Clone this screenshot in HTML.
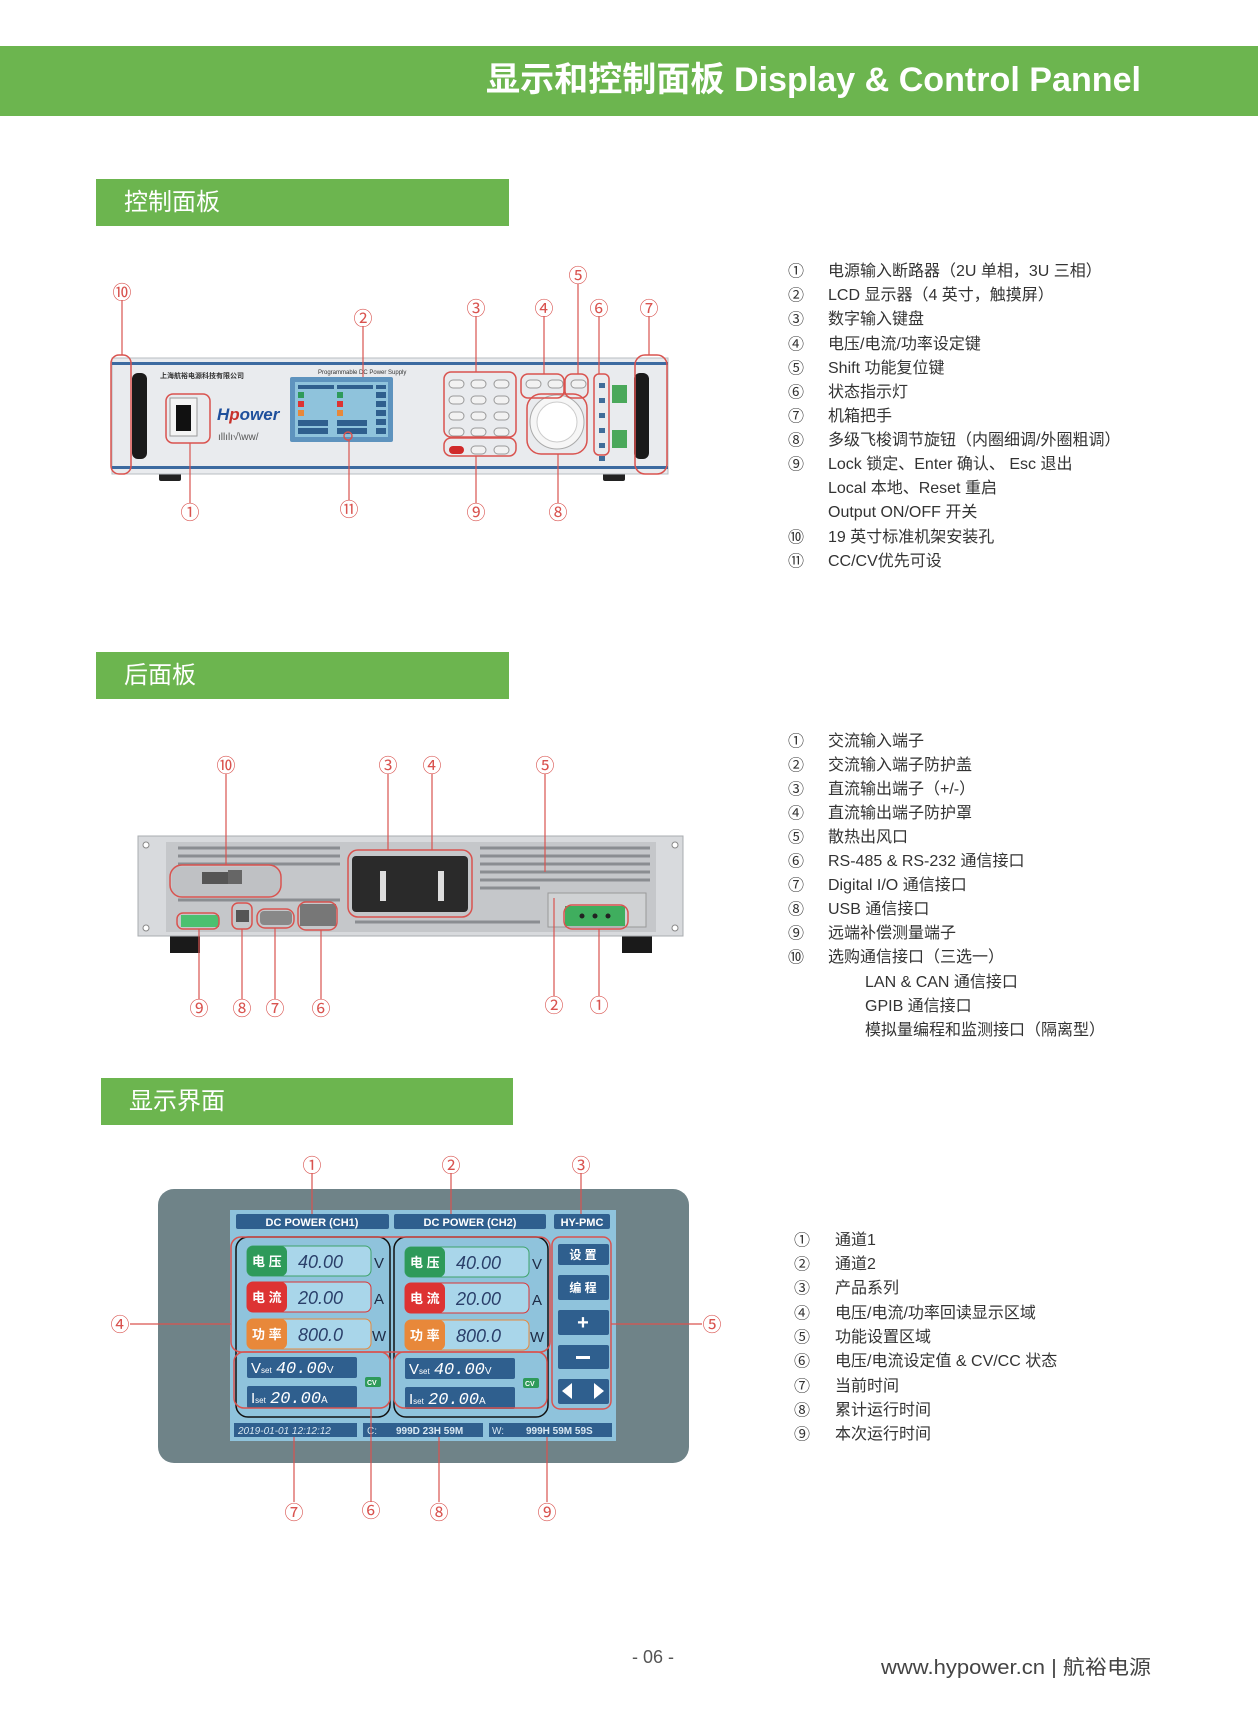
<!DOCTYPE html>
<html><head><meta charset="utf-8">
<style>
html,body{margin:0;padding:0;background:#fff;}
svg{display:block;}
text{font-family:"Liberation Sans","Noto Sans CJK SC",sans-serif;}
.cn{font-family:"Liberation Sans","Noto Sans CJK SC",sans-serif;font-size:16px;fill:#333;}
.num{font-family:"Noto Sans CJK SC","Liberation Sans",sans-serif;font-size:19px;fill:#d9534f;}
.ln{stroke:#d9534f;stroke-width:1.2;fill:none;}
.rb{stroke:#d9534f;stroke-width:1.5;fill:none;}
.lnum{font-family:"Noto Sans CJK SC",sans-serif;font-size:16px;fill:#333;}
</style></head><body>
<svg width="1258" height="1719" viewBox="0 0 1258 1719" xmlns="http://www.w3.org/2000/svg">
<!-- header -->
<rect x="0" y="46" width="1258" height="70" fill="#6cb54f"/>
<text x="486" y="91" font-size="34" font-weight="bold" fill="#fff" textLength="655" lengthAdjust="spacingAndGlyphs" style="font-family:'Liberation Sans','Noto Sans CJK SC',sans-serif">显示和控制面板  Display &amp; Control Pannel</text>

<!-- section bars -->
<rect x="96" y="179" width="413" height="47" fill="#6cb54f"/>
<text x="124" y="210" font-size="24" fill="#fff">控制面板</text>
<rect x="96" y="652" width="413" height="47" fill="#6cb54f"/>
<text x="124" y="683" font-size="24" fill="#fff">后面板</text>
<rect x="101" y="1078" width="412" height="47" fill="#6cb54f"/>
<text x="129" y="1109" font-size="24" fill="#fff">显示界面</text>

<!-- list 1 -->
<g dominant-baseline="middle">
<text class="lnum" x="788" y="272">①</text><text class="cn" x="828" y="272">电源输入断路器（2U 单相，3U 三相）</text>
<text class="lnum" x="788" y="296">②</text><text class="cn" x="828" y="296">LCD 显示器（4 英寸，触摸屏）</text>
<text class="lnum" x="788" y="320">③</text><text class="cn" x="828" y="320">数字输入键盘</text>
<text class="lnum" x="788" y="345">④</text><text class="cn" x="828" y="345">电压/电流/功率设定键</text>
<text class="lnum" x="788" y="369">⑤</text><text class="cn" x="828" y="369">Shift 功能复位键</text>
<text class="lnum" x="788" y="393">⑥</text><text class="cn" x="828" y="393">状态指示灯</text>
<text class="lnum" x="788" y="417">⑦</text><text class="cn" x="828" y="417">机箱把手</text>
<text class="lnum" x="788" y="441">⑧</text><text class="cn" x="828" y="441">多级飞梭调节旋钮（内圈细调/外圈粗调）</text>
<text class="lnum" x="788" y="465">⑨</text><text class="cn" x="828" y="465">Lock 锁定、Enter 确认、 Esc 退出</text>
<text class="cn" x="828" y="489">Local 本地、Reset 重启</text>
<text class="cn" x="828" y="513">Output ON/OFF 开关</text>
<text class="lnum" x="788" y="538">⑩</text><text class="cn" x="828" y="538">19 英寸标准机架安装孔</text>
<text class="lnum" x="788" y="562">⑪</text><text class="cn" x="828" y="562">CC/CV优先可设</text>

<!-- list 2 -->
<text class="lnum" x="788" y="742">①</text><text class="cn" x="828" y="742">交流输入端子</text>
<text class="lnum" x="788" y="766">②</text><text class="cn" x="828" y="766">交流输入端子防护盖</text>
<text class="lnum" x="788" y="790">③</text><text class="cn" x="828" y="790">直流输出端子（+/-）</text>
<text class="lnum" x="788" y="814">④</text><text class="cn" x="828" y="814">直流输出端子防护罩</text>
<text class="lnum" x="788" y="838">⑤</text><text class="cn" x="828" y="838">散热出风口</text>
<text class="lnum" x="788" y="862">⑥</text><text class="cn" x="828" y="862">RS-485 &amp; RS-232 通信接口</text>
<text class="lnum" x="788" y="886">⑦</text><text class="cn" x="828" y="886">Digital I/O 通信接口</text>
<text class="lnum" x="788" y="910">⑧</text><text class="cn" x="828" y="910">USB 通信接口</text>
<text class="lnum" x="788" y="934">⑨</text><text class="cn" x="828" y="934">远端补偿测量端子</text>
<text class="lnum" x="788" y="958">⑩</text><text class="cn" x="828" y="958">选购通信接口（三选一）</text>
<text class="cn" x="865" y="983">LAN &amp;  CAN 通信接口</text>
<text class="cn" x="865" y="1007">GPIB 通信接口</text>
<text class="cn" x="865" y="1031">模拟量编程和监测接口（隔离型）</text>

<!-- list 3 -->
<text class="lnum" x="794" y="1241">①</text><text class="cn" x="835" y="1241">通道1</text>
<text class="lnum" x="794" y="1265">②</text><text class="cn" x="835" y="1265">通道2</text>
<text class="lnum" x="794" y="1289">③</text><text class="cn" x="835" y="1289">产品系列</text>
<text class="lnum" x="794" y="1314">④</text><text class="cn" x="835" y="1314">电压/电流/功率回读显示区域</text>
<text class="lnum" x="794" y="1338">⑤</text><text class="cn" x="835" y="1338">功能设置区域</text>
<text class="lnum" x="794" y="1362">⑥</text><text class="cn" x="835" y="1362">电压/电流设定值 &amp; CV/CC 状态</text>
<text class="lnum" x="794" y="1387">⑦</text><text class="cn" x="835" y="1387">当前时间</text>
<text class="lnum" x="794" y="1411">⑧</text><text class="cn" x="835" y="1411">累计运行时间</text>
<text class="lnum" x="794" y="1435">⑨</text><text class="cn" x="835" y="1435">本次运行时间</text>
</g>

<!-- footer -->
<text x="653" y="1663" font-size="18" fill="#555" text-anchor="middle">- 06 -</text>
<text x="881" y="1674" font-size="20" fill="#444" textLength="270" lengthAdjust="spacingAndGlyphs">www.hypower.cn  |  航裕电源</text>

<!-- ========== FRONT PANEL ========== -->
<g>
<rect x="159" y="472" width="22" height="9" rx="2" fill="#222"/>
<rect x="603" y="472" width="22" height="9" rx="2" fill="#222"/>
<rect x="112" y="358" width="556" height="116" fill="#e9ebee" stroke="#b8bcc2"/>
<rect x="112" y="362" width="556" height="3" fill="#3c6aa0"/>
<rect x="112" y="466" width="556" height="3" fill="#3c6aa0"/>
<!-- handles -->
<rect x="132" y="373" width="15" height="86" rx="6" fill="#1a1a1a"/>
<rect x="634" y="373" width="15" height="86" rx="6" fill="#1a1a1a"/>
<text x="160" y="378" font-size="7" fill="#333" font-weight="bold">上海航裕电源科技有限公司</text>
<rect x="170" y="398" width="27" height="38" fill="#f4f4f4" stroke="#999"/>
<rect x="176" y="405" width="15" height="26" fill="#111"/>
<text x="217" y="420" font-size="17" font-weight="bold" font-style="italic" fill="#1e4f9c">H<tspan fill="#c8322b">p</tspan>ower</text>
<text x="218" y="440" font-size="10" fill="#555">ıllılı√\ww/</text>
<!-- LCD -->
<text x="318" y="374" font-size="6" fill="#333">Programmable DC Power Supply</text>
<rect x="290" y="377" width="103" height="65" rx="2" fill="#5e93be"/>
<rect x="295" y="382" width="93" height="55" fill="#8fc3dc"/>
<g fill="#2f5f8e"><rect x="298" y="385" width="36" height="4"/><rect x="337" y="385" width="36" height="4"/><rect x="376" y="385" width="10" height="4"/></g>
<g><rect x="298" y="392" width="6" height="6" fill="#2e9a5a"/><rect x="298" y="401" width="6" height="6" fill="#d33"/><rect x="298" y="410" width="6" height="6" fill="#e8883a"/>
<rect x="337" y="392" width="6" height="6" fill="#2e9a5a"/><rect x="337" y="401" width="6" height="6" fill="#d33"/><rect x="337" y="410" width="6" height="6" fill="#e8883a"/>
<rect x="298" y="420" width="30" height="6" fill="#2f5f8e"/><rect x="337" y="420" width="30" height="6" fill="#2f5f8e"/>
<rect x="298" y="428" width="30" height="6" fill="#2f5f8e"/><rect x="337" y="428" width="30" height="6" fill="#2f5f8e"/>
<g fill="#2f5f8e"><rect x="376" y="392" width="10" height="6"/><rect x="376" y="401" width="10" height="6"/><rect x="376" y="410" width="10" height="6"/><rect x="376" y="419" width="10" height="6"/><rect x="376" y="428" width="10" height="6"/></g></g>
<!-- keypad -->
<g fill="#f2f2f2" stroke="#999">
<rect x="449" y="380" width="15" height="8" rx="4"/><rect x="471" y="380" width="15" height="8" rx="4"/><rect x="494" y="380" width="15" height="8" rx="4"/>
<rect x="449" y="396" width="15" height="8" rx="4"/><rect x="471" y="396" width="15" height="8" rx="4"/><rect x="494" y="396" width="15" height="8" rx="4"/>
<rect x="449" y="412" width="15" height="8" rx="4"/><rect x="471" y="412" width="15" height="8" rx="4"/><rect x="494" y="412" width="15" height="8" rx="4"/>
<rect x="449" y="428" width="15" height="8" rx="4"/><rect x="471" y="428" width="15" height="8" rx="4"/><rect x="494" y="428" width="15" height="8" rx="4"/>
<rect x="471" y="446" width="15" height="8" rx="4"/><rect x="494" y="446" width="15" height="8" rx="4"/>
<rect x="526" y="380" width="15" height="8" rx="4"/><rect x="548" y="380" width="15" height="8" rx="4"/><rect x="571" y="380" width="15" height="8" rx="4"/>
</g>
<rect x="449" y="446" width="15" height="8" rx="4" fill="#d02a2a"/>
<circle cx="557" cy="422" r="27" fill="#f6f6f6" stroke="#aaa"/>
<circle cx="557" cy="422" r="20" fill="#fff" stroke="#ccc"/>
<g fill="#3f6d9a"><rect x="599" y="383" width="6" height="5"/><rect x="599" y="398" width="6" height="5"/><rect x="599" y="413" width="6" height="5"/><rect x="599" y="428" width="6" height="5"/><rect x="599" y="443" width="6" height="5"/><rect x="599" y="456" width="6" height="5"/></g>
<rect x="612" y="385" width="15" height="18" fill="#4aa85a"/><rect x="612" y="430" width="15" height="18" fill="#4aa85a"/>
<!-- red outlines -->
<rect class="rb" x="111" y="355" width="20" height="119" rx="8"/>
<rect class="rb" x="635" y="355" width="32" height="119" rx="10"/>
<rect class="rb" x="166" y="394" width="44" height="49" rx="7"/>
<rect class="rb" x="444" y="372" width="72" height="65" rx="7"/>
<rect class="rb" x="444" y="438" width="72" height="18" rx="7"/>
<rect class="rb" x="521" y="374" width="43" height="24" rx="7"/>
<rect class="rb" x="565" y="374" width="23" height="24" rx="7"/>
<rect class="rb" x="594" y="374" width="15" height="81" rx="5"/>
<rect class="rb" x="527" y="394" width="60" height="60" rx="14"/>
<circle class="rb" cx="348" cy="436" r="4"/>
<!-- callouts -->
<path class="ln" d="M122 300V355 M363 326V377 M476 316V372 M544 316V374 M578 284V374 M599 316V374 M649 316V355 M190 443V503 M349 440V500 M476 456V503 M558 454V503"/>
<text class="num" x="122" y="299" text-anchor="middle">⑩</text>
<text class="num" x="363" y="325" text-anchor="middle">②</text>
<text class="num" x="476" y="315" text-anchor="middle">③</text>
<text class="num" x="544" y="315" text-anchor="middle">④</text>
<text class="num" x="578" y="282" text-anchor="middle">⑤</text>
<text class="num" x="599" y="315" text-anchor="middle">⑥</text>
<text class="num" x="649" y="315" text-anchor="middle">⑦</text>
<text class="num" x="190" y="519" text-anchor="middle">①</text>
<text class="num" x="349" y="516" text-anchor="middle">⑪</text>
<text class="num" x="476" y="519" text-anchor="middle">⑨</text>
<text class="num" x="558" y="519" text-anchor="middle">⑧</text>
</g>

<!-- ========== REAR PANEL ========== -->
<g>
<rect x="170" y="934" width="30" height="19" fill="#1a1a1a"/>
<rect x="622" y="934" width="30" height="19" fill="#1a1a1a"/>
<rect x="138" y="836" width="545" height="100" fill="#d8dadd" stroke="#a9acb0"/>
<rect x="166" y="842" width="490" height="90" fill="#c5c7ca"/>
<g stroke="#8a8d91" stroke-width="3">
<path d="M178 848H340 M178 856H340 M178 864H340 M178 900H340 M480 848H650 M480 856H650 M480 864H650 M480 872H650 M480 880H650 M480 888H540 M355 922H540"/>
</g>
<circle cx="146" cy="845" r="3" fill="#fff" stroke="#888"/><circle cx="146" cy="928" r="3" fill="#fff" stroke="#888"/>
<circle cx="675" cy="845" r="3" fill="#fff" stroke="#888"/><circle cx="675" cy="928" r="3" fill="#fff" stroke="#888"/>
<rect x="172" y="867" width="108" height="29" rx="6" fill="#bfc1c4"/>
<rect x="202" y="872" width="26" height="12" fill="#555"/><rect x="228" y="870" width="14" height="14" fill="#666"/>
<rect x="352" y="856" width="116" height="56" rx="4" fill="#2a2a2a"/>
<rect x="380" y="871" width="6" height="30" fill="#ddd"/><rect x="438" y="871" width="6" height="30" fill="#ddd"/>
<rect x="548" y="893" width="98" height="34" fill="#d0d2d4" stroke="#999"/>
<rect x="565" y="906" width="60" height="20" fill="#3fae5e"/>
<circle cx="582" cy="916" r="2.5" fill="#222"/><circle cx="595" cy="916" r="2.5" fill="#222"/><circle cx="608" cy="916" r="2.5" fill="#222"/>
<rect x="181" y="915" width="38" height="12" fill="#4cc070"/>
<rect x="236" y="910" width="13" height="12" fill="#555"/>
<rect x="260" y="911" width="32" height="14" rx="4" fill="#888"/>
<rect x="300" y="904" width="36" height="22" fill="#777"/>
<rect class="rb" x="170" y="865" width="111" height="32" rx="12"/>
<rect class="rb" x="348" y="850" width="124" height="67" rx="10"/>
<rect class="rb" x="564" y="905" width="64" height="24" rx="8"/>
<rect class="rb" x="177" y="913" width="42" height="16" rx="6"/>
<rect class="rb" x="232" y="903" width="20" height="26" rx="6"/>
<rect class="rb" x="257" y="909" width="37" height="19" rx="8"/>
<rect class="rb" x="298" y="902" width="39" height="28" rx="8"/>
<path class="ln" d="M226 774V865 M388 774V850 M432 774V850 M545 774V872 M199 929V999 M242 929V999 M275 928V999 M321 930V999 M554 898V996 M599 929V996"/>
<text class="num" x="226" y="772" text-anchor="middle">⑩</text>
<text class="num" x="388" y="772" text-anchor="middle">③</text>
<text class="num" x="432" y="772" text-anchor="middle">④</text>
<text class="num" x="545" y="772" text-anchor="middle">⑤</text>
<text class="num" x="199" y="1015" text-anchor="middle">⑨</text>
<text class="num" x="242" y="1015" text-anchor="middle">⑧</text>
<text class="num" x="275" y="1015" text-anchor="middle">⑦</text>
<text class="num" x="321" y="1015" text-anchor="middle">⑥</text>
<text class="num" x="554" y="1012" text-anchor="middle">②</text>
<text class="num" x="599" y="1012" text-anchor="middle">①</text>
</g>

<!-- ========== DISPLAY ========== -->
<g>
<rect x="158" y="1189" width="531" height="274" rx="16" fill="#6f8388"/>
<rect x="230" y="1210" width="386" height="231" fill="#8fc3dc"/>
<g fill="#2f5f8e">
<rect x="236" y="1214" width="153" height="15" rx="2"/>
<rect x="394" y="1214" width="152" height="15" rx="2"/>
<rect x="554" y="1214" width="56" height="15" rx="2"/>
</g>
<g font-size="11" font-weight="bold" fill="#fff" text-anchor="middle">
<text x="312" y="1226">DC POWER (CH1)</text>
<text x="470" y="1226">DC POWER (CH2)</text>
<text x="582" y="1226">HY-PMC</text>
</g>
<!-- channel rows -->
<g id="ch1">
<rect x="247" y="1246" width="124" height="30" rx="6" fill="#a9d6ea" stroke="#3fa36a"/>
<rect x="247" y="1246" width="40" height="30" rx="6" fill="#2e9a5a"/>
<rect x="247" y="1282" width="124" height="30" rx="6" fill="#a9d6ea" stroke="#d33"/>
<rect x="247" y="1282" width="40" height="30" rx="6" fill="#d33"/>
<rect x="247" y="1319" width="124" height="30" rx="6" fill="#a9d6ea" stroke="#e8883a"/>
<rect x="247" y="1319" width="40" height="30" rx="6" fill="#e8883a"/>
<g font-size="13" font-weight="bold" fill="#fff" style="font-family:'Noto Sans CJK SC',sans-serif">
<text x="252" y="1266">电 压</text><text x="252" y="1302">电 流</text><text x="252" y="1339">功 率</text></g>
<g font-size="18" font-style="italic" fill="#2a3f6a" style="font-family:'Liberation Mono',monospace">
<text x="298" y="1268">40.00</text><text x="298" y="1304">20.00</text><text x="298" y="1341">800.0</text></g>
<g font-size="15" fill="#1d2a44"><text x="374" y="1268">V</text><text x="374" y="1304">A</text><text x="372" y="1341">W</text></g>
<rect x="247" y="1357" width="110" height="21" rx="2" fill="#2f5f8e"/>
<rect x="247" y="1386" width="110" height="22" rx="2" fill="#2f5f8e"/>
<g fill="#fff" font-size="15"><text x="251" y="1373">V<tspan font-size="8">set</tspan> <tspan font-style="italic" style="font-family:'Liberation Mono',monospace" font-size="17">40.00</tspan><tspan font-size="10">V</tspan></text>
<text x="251" y="1403">I<tspan font-size="8">set</tspan> <tspan font-style="italic" style="font-family:'Liberation Mono',monospace" font-size="17">20.00</tspan><tspan font-size="10">A</tspan></text></g>
<rect x="365" y="1377" width="16" height="10" rx="2" fill="#2e9a5a"/>
<text x="367" y="1385" font-size="7" fill="#fff" font-weight="bold">CV</text>
</g>
<use href="#ch1" transform="translate(158,1)"/>
<!-- right buttons -->
<g fill="#2f5f8e">
<rect x="558" y="1244" width="51" height="21" rx="2"/>
<rect x="558" y="1275" width="51" height="25" rx="2"/>
<rect x="558" y="1310" width="51" height="25" rx="2"/>
<rect x="558" y="1345" width="51" height="24" rx="2"/>
<rect x="558" y="1379" width="51" height="25" rx="2"/>
</g>
<g fill="#fff" font-size="12" font-weight="bold" text-anchor="middle" style="font-family:'Noto Sans CJK SC',sans-serif">
<text x="583" y="1259">设 置</text><text x="583" y="1292">编 程</text></g>
<text x="583" y="1329" font-size="20" font-weight="bold" fill="#fff" text-anchor="middle">+</text>
<rect x="576" y="1356" width="14" height="3" fill="#fff"/>
<path d="M562 1391l10-8v16z M604 1391l-10-8v16z" fill="#fff"/>
<!-- bottom bar -->
<g fill="#2f5f8e"><rect x="234" y="1423" width="123" height="14"/><rect x="363" y="1423" width="120" height="14"/><rect x="489" y="1423" width="123" height="14"/></g>
<g fill="#d8e8f2" font-size="10"><text x="238" y="1434" font-style="italic">2019-01-01 12:12:12</text>
<text x="367" y="1434">C:</text><text x="396" y="1434" font-weight="bold">999D 23H 59M</text>
<text x="492" y="1434">W:</text><text x="526" y="1434" font-weight="bold">999H 59M 59S</text></g>
<!-- outlines -->
<rect x="236" y="1237" width="154" height="180" rx="12" fill="none" stroke="#111" stroke-width="1.5"/>
<rect x="394" y="1237" width="154" height="180" rx="12" fill="none" stroke="#111" stroke-width="1.5"/>
<rect class="rb" x="231" y="1237" width="319" height="115" rx="10"/>
<rect class="rb" x="234" y="1352" width="156" height="56" rx="10"/>
<rect class="rb" x="394" y="1352" width="153" height="56" rx="10"/>
<rect class="rb" x="552" y="1237" width="59" height="172" rx="8"/>
<path class="ln" d="M312 1173V1214 M451 1173V1214 M581 1173V1214 M130 1324H231 M611 1324H702 M294 1437V1502 M371 1408V1502 M439 1437V1502 M547 1437V1502"/>
<text class="num" x="312" y="1172" text-anchor="middle">①</text>
<text class="num" x="451" y="1172" text-anchor="middle">②</text>
<text class="num" x="581" y="1172" text-anchor="middle">③</text>
<text class="num" x="120" y="1331" text-anchor="middle">④</text>
<text class="num" x="712" y="1331" text-anchor="middle">⑤</text>
<text class="num" x="294" y="1519" text-anchor="middle">⑦</text>
<text class="num" x="371" y="1517" text-anchor="middle">⑥</text>
<text class="num" x="439" y="1519" text-anchor="middle">⑧</text>
<text class="num" x="547" y="1519" text-anchor="middle">⑨</text>
</g>
</svg>
</body></html>
